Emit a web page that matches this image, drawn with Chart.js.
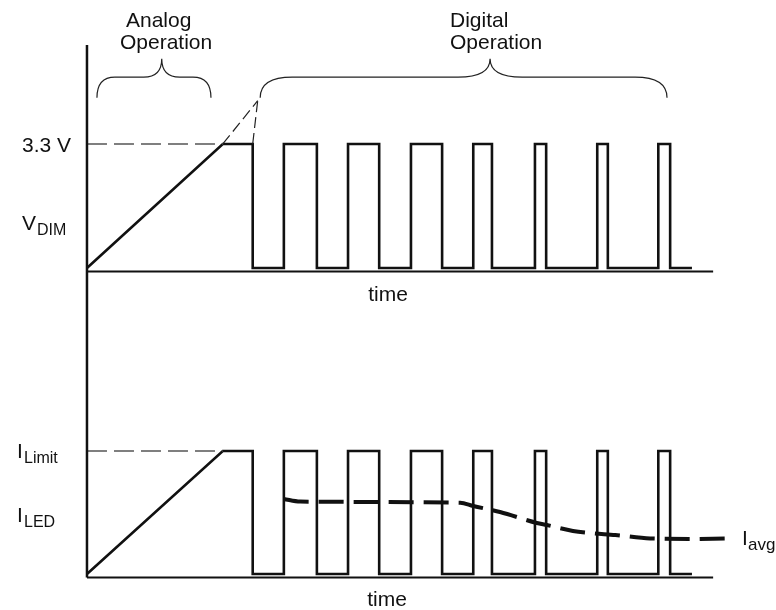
<!DOCTYPE html>
<html>
<head>
<meta charset="utf-8">
<script src="https://cdn.jsdelivr.net/npm/chart.js@4"></script>
<style>
  html, body { margin: 0; padding: 0; background: #fff; }
  #c { display: block; }
</style>
</head>
<body>
<canvas id="c" width="776" height="610"></canvas>
<script>
// ---- data (time in arbitrary units, V_DIM in volts, I_LED normalised to I_Limit) ----
const vHigh = 3.3;            // V_DIM high level
const iLimit = 1.0;           // I_LED high level (I_Limit)
const rampEnd = 21.8;         // end of analog ramp
const flatEnd = 26.6;         // end of flat top before first PWM edge
const pulseRise = [31.6, 41.9, 52.0, 62.0, 71.9, 81.9, 91.7];
const pulseFall = [36.9, 46.9, 57.0, 65.0, 73.7, 83.6, 93.6];
const lowEnd = 97.1;          // last low segment ends
const axisEnd = 100.5;        // time axis length
const iavgTime  = [31.6, 34.2, 59.9, 62.0, 66.3, 72.2, 73.8, 78.0, 80.7, 84.8, 90.4, 96.8, 102.4];
const iavgLevel = [0.61, 0.589, 0.580, 0.553, 0.504, 0.415, 0.398, 0.350, 0.333, 0.317, 0.289, 0.285, 0.289];
const extTip = { t: 27.4, v: 4.45 };   // meeting point of dashed extension lines
const braceAnalog  = { from: 1.6,  tip: 12.0, to: 19.9 };
const braceDigital = { from: 27.8, tip: 64.7, to: 93.1 };
const braceLevels = { end: 4.53, flat: 5.08, tip: 5.57 };

function waveform(high) {
  const pts = [{x: 0, y: 0}, {x: rampEnd, y: high}, {x: flatEnd, y: high}, {x: flatEnd, y: 0}];
  pulseRise.forEach((r, i) => {
    pts.push({x: r, y: 0}, {x: r, y: high}, {x: pulseFall[i], y: high}, {x: pulseFall[i], y: 0});
  });
  pts.push({x: lowEnd, y: 0});
  return pts;
}

const black = '#111';
const base = { pointRadius: 0, pointHoverRadius: 0, fill: false, tension: 0, borderJoinStyle: 'miter' };

const datasets = [
  // axes
  Object.assign({}, base, { yAxisID: 'yI', data: [{x: 0, y: -0.029}, {x: 0, y: 4.3}], borderColor: black, borderWidth: 2.5 }),
  Object.assign({}, base, { yAxisID: 'yV', data: [{x: 0, y: -0.093}, {x: axisEnd, y: -0.093}], borderColor: black, borderWidth: 2 }),
  Object.assign({}, base, { yAxisID: 'yI', data: [{x: 0, y: -0.029}, {x: axisEnd, y: -0.029}], borderColor: black, borderWidth: 2 }),
  // reference dashes
  Object.assign({}, base, { yAxisID: 'yV', data: [{x: 0, y: vHigh}, {x: rampEnd, y: vHigh}], borderColor: '#555', borderWidth: 1.5, borderDash: [20, 7] }),
  Object.assign({}, base, { yAxisID: 'yI', data: [{x: 0, y: iLimit}, {x: rampEnd, y: iLimit}], borderColor: '#555', borderWidth: 1.5, borderDash: [20, 7] }),
  // extension dashes
  Object.assign({}, base, { yAxisID: 'yV', data: [{x: rampEnd, y: vHigh}, {x: extTip.t, y: extTip.v}], borderColor: '#222', borderWidth: 1.2, borderDash: [11, 5] }),
  Object.assign({}, base, { yAxisID: 'yV', data: [{x: flatEnd, y: vHigh}, {x: extTip.t, y: extTip.v}], borderColor: '#222', borderWidth: 1.2, borderDash: [11, 5] }),
  // waveforms
  Object.assign({}, base, { yAxisID: 'yV', data: waveform(vHigh), borderColor: black, borderWidth: 2.6 }),
  Object.assign({}, base, { yAxisID: 'yI', data: waveform(iLimit), borderColor: black, borderWidth: 2.6 }),
  // I_avg
  Object.assign({}, base, { yAxisID: 'yI', data: iavgTime.map((t, i) => ({x: t, y: iavgLevel[i]})),
    borderColor: black, borderWidth: 4, borderDash: [25, 10], tension: 0.4, cubicInterpolationMode: 'monotone', borderJoinStyle: 'round' })
];

const FONT = '"Liberation Sans", Arial, Helvetica, sans-serif';

const annotations = {
  id: 'annotations',
  afterDatasetsDraw(chart) {
    const ctx = chart.ctx;
    const xs = chart.scales.x, yv = chart.scales.yV;
    ctx.save();
    // braces
    function brace(b, r) {
      const x0 = xs.getPixelForValue(b.from), x1 = xs.getPixelForValue(b.to), xt = xs.getPixelForValue(b.tip);
      const ye = yv.getPixelForValue(braceLevels.end), yf = yv.getPixelForValue(braceLevels.flat), yt = yv.getPixelForValue(braceLevels.tip);
      ctx.beginPath();
      ctx.moveTo(x0, ye);
      ctx.quadraticCurveTo(x0, yf, x0 + r, yf);
      ctx.lineTo(xt - r, yf);
      ctx.quadraticCurveTo(xt, yf, xt, yt);
      ctx.quadraticCurveTo(xt, yf, xt + r, yf);
      ctx.lineTo(x1 - r, yf);
      ctx.quadraticCurveTo(x1, yf, x1, ye);
      ctx.strokeStyle = '#222';
      ctx.lineWidth = 1.2;
      ctx.stroke();
    }
    brace(braceAnalog, 18);
    brace(braceDigital, 32);

    // texts
    ctx.fillStyle = '#111';
    ctx.textBaseline = 'alphabetic';
    ctx.textAlign = 'left';
    function txt(s, x, y, size) { ctx.font = size + 'px ' + FONT; ctx.fillText(s, x, y); }
    txt('Analog', 126, 27, 21);
    txt('Operation', 120, 49, 21);
    txt('Digital', 450, 27, 21);
    txt('Operation', 450, 49, 21);
    txt('3.3 V', 22, 152, 21);
    txt('V', 22, 230, 21);
    txt('DIM', 37, 235, 16);
    ctx.textAlign = 'center';
    txt('time', 388, 301, 21);
    txt('time', 387, 606, 21);
    ctx.textAlign = 'left';
    txt('I', 17, 458, 21);
    txt('Limit', 24, 463, 16);
    txt('I', 17, 522, 21);
    txt('LED', 24, 527, 16);
    txt('I', 742, 545, 21);
    txt('avg', 748, 550, 17);
    ctx.restore();
  }
};

new Chart(document.getElementById('c'), {
  type: 'line',
  data: { datasets },
  options: {
    responsive: false,
    animation: false,
    events: [],
    layout: { padding: 0 },
    plugins: { legend: { display: false }, tooltip: { enabled: false }, title: { display: false } },
    scales: {
      x:  { type: 'linear', display: false, min: -13.96, max: 110.59 },
      yV: { type: 'linear', display: false, min: -9.10, max: 7.13 },
      yI: { type: 'linear', display: false, min: -0.2927, max: 4.6667 }
    }
  },
  plugins: [annotations]
});
</script>
</body>
</html>
